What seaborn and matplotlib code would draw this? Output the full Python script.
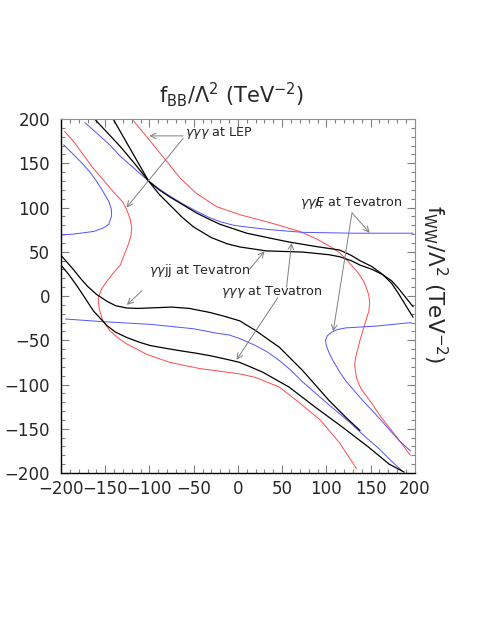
import matplotlib
matplotlib.use("Agg")
import matplotlib.pyplot as plt
import seaborn as sns
from matplotlib.ticker import MultipleLocator

# gamma gamma gamma at LEP (red)
lep_a_x = [-118, -99, -82, -65, -47, -24, 2, 36, 70, 90, 104, 115, 122, 130, 136, 142, 145, 148, 149, 148, 145, 141, 138, 135, 133, 132, 134, 137, 140, 149, 162, 180, 195]
lep_a_y = [198, 175, 154, 133, 116, 101, 92, 83, 73, 64, 56, 49, 42, 33, 26, 17, 10, 1, -8, -17, -27, -40, -50, -62, -70, -78, -92, -100, -106, -118, -137, -160, -180]
lep_b_x = [-196, -186, -164, -141, -130, -126, -122, -120, -121, -124, -128, -133, -140, -148, -154, -158, -157, -153, -145, -136, -126, -103, -77, -43, 2, 20, 47, 70, 93, 115, 134]
lep_b_y = [186, 175, 145, 118, 106, 98, 88, 77, 68, 58, 48, 35, 27, 17, 8, -2, -14, -27, -39, -47, -54, -66, -75, -82, -88, -92, -103, -121, -140, -166, -195]

# gamma gamma missing-ET at Tevatron (blue)
met_a_x = [-173, -145, -133, -117, -101, -89, -77, -62, -47, -33, -20, -5, 10, 36, 73, 130, 198]
met_a_y = [196, 171, 158, 144, 130, 121, 113, 104, 96, 89, 84, 80, 78, 75, 72, 71, 71]
met_b_x = [-197, -188, -178, -168, -160, -153, -146, -143, -143, -146, -152, -163, -186, -199]
met_b_y = [171, 162, 152, 141, 130, 119, 107, 98, 90, 81, 77, 73, 70, 69]
met_c_x = [-195, -152, -99, -50, -24, -10, 2, 20, 33, 47, 60, 72, 88, 103, 115, 130, 145, 160, 172, 185]
met_c_y = [-26, -29, -32, -37, -42, -44, -48, -56, -63, -73, -84, -96, -110, -123, -133, -146, -160, -173, -185, -197]
met_d_x = [196, 156, 122, 112, 106, 101, 99, 100, 103, 107, 114, 122, 141, 157, 182, 195]
met_d_y = [-30, -34, -36, -38, -41, -45, -50, -56, -64, -72, -84, -96, -118, -135, -163, -175]

# gamma gamma gamma at Tevatron (black)
tev3_a_x = [-162, -147, -133, -117, -101, -89, -77, -62, -47, -33, -20, -5, 10, 36, 58, 88, 115, 128, 138, 152, 164, 174, 182, 190, 198]
tev3_a_y = [200, 184, 169, 150, 130, 120, 112, 103, 94, 87, 81, 76, 71, 65.5, 61, 56, 52, 46, 40, 33, 24, 14, 2, -11, -24]
tev3_b_x = [-200, -191, -183, -173, -163.5, -148, -138, -126, -112, -99, -82, -65.5, -48, -31.6, -15, 2, 28, 58, 88, 118, 148, 171, 188]
tev3_b_y = [35, 24, 13, -2, -16.6, -33.5, -41, -46.7, -52, -56, -59, -61.8, -64.5, -67.4, -71, -75, -86, -103, -126, -148, -171, -190, -199]

# gamma gamma jj at Tevatron (black)
jj_a_x = [-141, -133, -117, -101, -89, -77, -63, -50, -30, -12, 2, 32, 73, 103, 115, 128, 138, 152, 164, 174, 182, 190, 198]
jj_a_y = [200, 186, 158, 130, 115, 103, 89, 78, 66, 59, 55.5, 51, 49.7, 46.7, 44.4, 40, 35, 30, 24, 17, 8, -2, -12]
jj_b_x = [-200, -193, -186, -178, -170, -160, -148, -138, -126, -113, -100, -75, -55, -32, -15, 2, 20, 47, 73, 103, 122, 138]
jj_b_y = [46, 38, 30, 20, 11, 2, -6, -11, -13.5, -14, -13.5, -12.5, -14, -18.5, -23, -28, -39, -58, -84, -118, -137, -152]

ticks = [-200, -150, -100, -50, 0, 50, 100, 150, 200]

sns.set_style("ticks")
plt.rcParams["font.family"] = ["DejaVu Sans"]
plt.rcParams["mathtext.fontset"] = "dejavusans"

fig = plt.figure(figsize=(4.88, 6.32), dpi=100)
ax = fig.add_axes([0.125, 0.2516, 0.725, 0.560])

red = "#ff4a4a"
blue = "#5252ff"
curves = [
    (lep_a_x, lep_a_y, red, 0.7),
    (lep_b_x, lep_b_y, red, 0.7),
    (met_a_x, met_a_y, blue, 0.7),
    (met_b_x, met_b_y, blue, 0.7),
    (met_c_x, met_c_y, blue, 0.7),
    (met_d_x, met_d_y, blue, 0.7),
    (tev3_a_x, tev3_a_y, "black", 0.9),
    (tev3_b_x, tev3_b_y, "black", 0.9),
    (jj_a_x, jj_a_y, "black", 0.9),
    (jj_b_x, jj_b_y, "black", 0.9),
]
for cx, cy, col, lw in curves:
    sns.lineplot(x=cx, y=cy, sort=False, estimator=None, color=col, lw=lw, ax=ax)

ax.set_xlim(-200, 200)
ax.set_ylim(-200, 200)
ax.set_xticks(ticks)
ax.set_yticks(ticks)
ax.xaxis.set_minor_locator(MultipleLocator(10))
ax.yaxis.set_minor_locator(MultipleLocator(10))
ax.tick_params(which="both", direction="in", top=True, right=True, color="#808080",
               labelsize=12, width=0.8)
ax.tick_params(which="major", length=6)
ax.tick_params(which="minor", length=3)
ax.tick_params(axis="x", pad=5)
ax.tick_params(axis="y", pad=8)
for side in ["left", "bottom"]:
    ax.spines[side].set_color("black")
    ax.spines[side].set_linewidth(1.0)
for side in ["top", "right"]:
    ax.spines[side].set_color("#909090")
    ax.spines[side].set_linewidth(0.8)

# annotations
txt = dict(fontsize=9.2, va="center", ha="left")
arr = dict(arrowstyle="->", color="#808080", lw=0.7, shrinkA=0, shrinkB=0)

ax.text(-60, 184, r"$\gamma\gamma\gamma$ at LEP", **txt)
ax.annotate("", xy=(-100, 181), xytext=(-62, 181), arrowprops=arr)
ax.annotate("", xy=(-126, 100), xytext=(-62, 178), arrowprops=arr)

ax.text(70, 105, r"$\gamma\gamma E\!\!\!\!/_{\!\mathrm{T}}$ at Tevatron", **txt)
ax.annotate("", xy=(149, 71.5), xytext=(129, 94), arrowprops=arr)
ax.annotate("", xy=(107.7, -40), xytext=(129, 94), arrowprops=arr)

ax.text(-100, 29, r"$\gamma\gamma$jj at Tevatron", **txt)
ax.annotate("", xy=(30, 50.5), xytext=(13, 30), arrowprops=arr)
ax.annotate("", xy=(-125.5, -10), xytext=(-108.5, 6), arrowprops=arr)

ax.text(-19, 4, r"$\gamma\gamma\gamma$ at Tevatron", **txt)
ax.annotate("", xy=(-1.5, -72), xytext=(45, -2), arrowprops=arr)
ax.annotate("", xy=(60.7, 60), xytext=(55, 10), arrowprops=arr)

fig.text(0.475, 0.85, r"$\mathregular{f_{BB}/\Lambda^2\ (TeV^{-2})}$", fontsize=15,
         ha="center", va="center")
fig.text(0.893, 0.551, r"$\mathregular{f_{WW}/\Lambda^2\ (TeV^{-2})}$", fontsize=15.5,
         ha="center", va="center", rotation=270)

fig.savefig("out.png", dpi=100)
